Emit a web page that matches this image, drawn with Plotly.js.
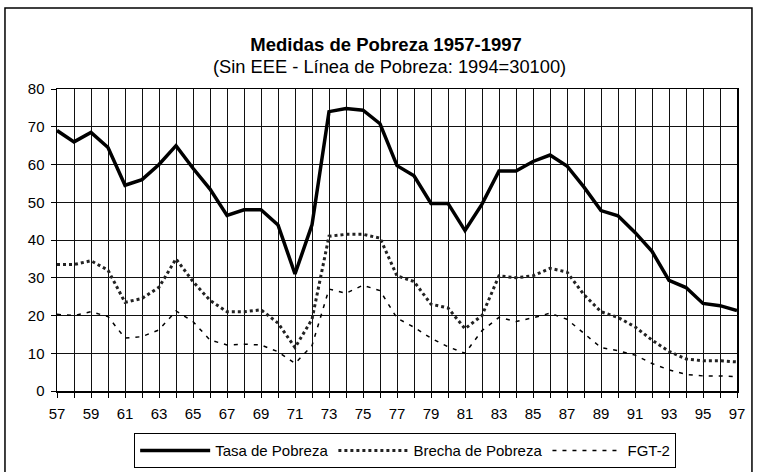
<!DOCTYPE html>
<html>
<head>
<meta charset="utf-8">
<script src="https://cdn.plot.ly/plotly-3.0.1.min.js"></script>
<style>html,body{margin:0;padding:0;background:#fff;}#chart{width:760px;height:472px;}</style>
</head>
<body>
<div id="chart"></div>
<script>
var years = [57,58,59,60,61,62,63,64,65,66,67,68,69,70,71,72,73,74,75,76,77,78,79,80,81,82,83,84,85,86,87,88,89,90,91,92,93,94,95,96,97];
var tasa = [69,66,68.5,64.5,54.5,56,60,65,59,53.5,46.5,48,48,44,31,44,74,74.8,74.4,70.8,59.7,57,49.7,49.7,42.5,49.5,58.3,58.3,60.8,62.5,59.6,54,47.8,46.4,42,37,29.3,27.4,23.2,22.6,21.3];
var brecha = [33.5,33.5,34.5,32,23.5,24.5,27.5,35,29,24,21,21,21.5,18,11.5,19,41,41.5,41.5,40.5,30.5,29,23,22,16.5,20,30.5,30,30.5,32.5,31.5,25.5,21,19.5,17,13.5,10.5,8.5,8,8,7.7];
var fgt2 = [20.3,20,21,19.7,14,14.4,16.2,21.2,18.4,13.5,12.2,12.4,12.2,10.4,7.3,12,27,25.9,28,26.6,19.3,16.9,14,11.7,10,16,19.5,18.4,19.4,20.6,19,15.3,11.5,10.7,9.5,7.3,5.6,4.4,4,4,3.8];
var tickLabels = years.map(function(y){ return (y % 2 === 1) ? String(y) : ''; });
var titleText = 'Medidas de Pobreza 1957-1997';
var subtitleText = '(Sin EEE - Línea de Pobreza: 1994=30100)';

var traces = [
  {x: years, y: tasa, name: 'Tasa de Pobreza', mode: 'lines', line: {color: '#000', width: 3.5}},
  {x: years, y: brecha, name: 'Brecha de Pobreza', mode: 'lines', line: {color: '#222', width: 3, dash: 'dot'}},
  {x: years, y: fgt2, name: 'FGT-2', mode: 'lines', line: {color: '#000', width: 1.5, dash: '4px,6px'}}
];

var layout = {
  width: 760, height: 472,
  margin: {l: 57, r: 23, t: 89, b: 81, autoexpand: false},
  paper_bgcolor: '#fff', plot_bgcolor: '#fff',
  font: {family: '"Liberation Sans", Arial, sans-serif', color: '#000', size: 15},
  title: {text: '<b>' + titleText + '</b>', x: 0.508, xanchor: 'center', y: 1 - 45/472, yanchor: 'middle',
          font: {size: 18.5, color: '#000'}},
  annotations: [
    {text: subtitleText, xref: 'paper', yref: 'paper', x: 0.489, xanchor: 'center', y: 1.073, yanchor: 'middle',
     showarrow: false, font: {size: 18.3, color: '#000'}}
  ],
  xaxis: {range: [57, 97], tickvals: years, ticktext: tickLabels, showgrid: true, gridcolor: '#111', gridwidth: 1,
          ticks: 'outside', ticklen: 5, tickcolor: '#000', showline: true, linecolor: '#000', linewidth: 1.5, mirror: true,
          zeroline: false, tickfont: {size: 15}, tickangle: 0, ticklabelstandoff: 3},
  yaxis: {range: [0, 80], dtick: 10, showgrid: true, gridcolor: '#111', gridwidth: 1,
          ticks: 'outside', ticklen: 5, tickcolor: '#000', showline: true, linecolor: '#000', linewidth: 1.5, mirror: true,
          zeroline: false, tickfont: {size: 15}, ticklabelstandoff: 3},
  showlegend: true,
  legend: {orientation: 'h', x: 0.512, xanchor: 'center', y: -0.14, yanchor: 'top',
           bordercolor: '#000', borderwidth: 1, bgcolor: '#fff', font: {size: 15}, itemwidth: 70, tracegroupgap: 0},
  shapes: [
    {type: 'rect', xref: 'paper', yref: 'paper', x0: -0.0765, x1: 1.022, y0: -0.32, y1: 1.268,
     line: {color: '#000', width: 1.5}, fillcolor: 'rgba(0,0,0,0)', layer: 'below'}
  ]
};

Plotly.newPlot('chart', traces, layout, {displayModeBar: false, staticPlot: true});
</script>
</body>
</html>
